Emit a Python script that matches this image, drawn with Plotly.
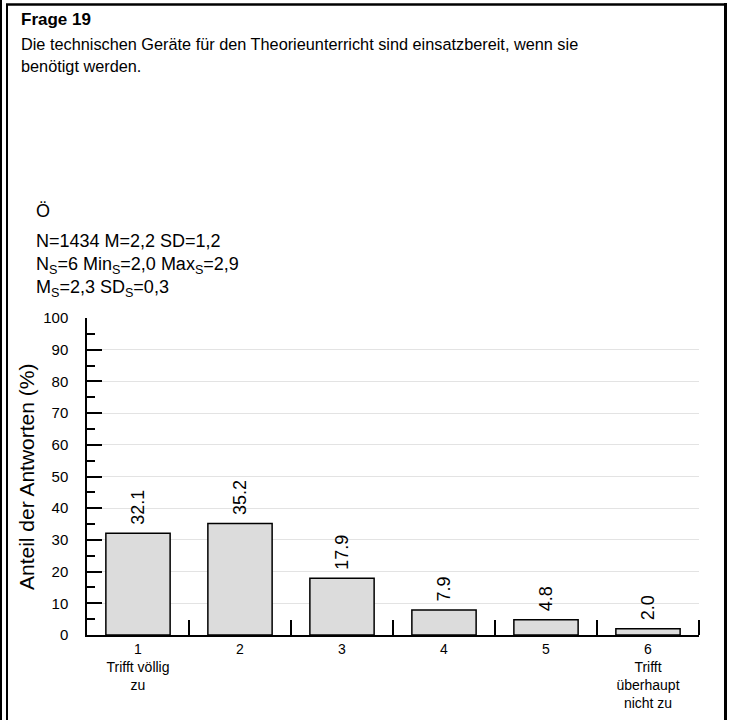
import plotly.graph_objects as go

# Frage 19 - Antwortverteilung
categories = [1, 2, 3, 4, 5, 6]
cat_labels = ["1<br>Trifft völlig<br>zu", "2", "3", "4", "5", "6<br>Trifft<br>überhaupt<br>nicht zu"]
shares = [32.1, 35.2, 17.9, 7.9, 4.8, 2.0]
y_ticks = [0, 10, 20, 30, 40, 50, 60, 70, 80, 90, 100]

title = "<b>Frage 19</b>"
question = ["Die technischen Geräte für den Theorieunterricht sind einsatzbereit, wenn sie",
            "benötigt werden."]
stats = ["Ö",
         "N=1434 M=2,2 SD=1,2",
         "N<sub>S</sub>=6 Min<sub>S</sub>=2,0 Max<sub>S</sub>=2,9",
         "M<sub>S</sub>=2,3 SD<sub>S</sub>=0,3"]
y_title = "Anteil der Antworten (%)"

FONT = "Arial, Liberation Sans, sans-serif"

# plot area in pixels (page 731 x 720)
L, R, T, B = 87, 699, 318, 635
W, H = R - L, B - T


def fx(px):
    return (px - L) / W


def fy(py):
    return (B - py) / H


fig = go.Figure()
fig.add_trace(go.Bar(
    x=categories, y=shares, width=0.63,
    marker=dict(color="#dcdcdc", line=dict(color="black", width=1.5)),
    hoverinfo="skip",
))

# rotated value labels above bars
for c, v in zip(categories, shares):
    fig.add_annotation(x=c, y=v, text=f"{v:.1f}", textangle=-90,
                       showarrow=False, xanchor="center", yanchor="bottom",
                       yshift=6, font=dict(family=FONT, size=18, color="black"))

# header texts
fig.add_annotation(x=fx(19), y=fy(19), xref="paper", yref="paper", text=title,
                   showarrow=False, xanchor="left", yanchor="middle",
                   font=dict(family=FONT, size=17, color="black"))
for i, line in enumerate(question):
    fig.add_annotation(x=fx(19), y=fy(44 + 22 * i), xref="paper", yref="paper", text=line,
                       showarrow=False, xanchor="left", yanchor="middle",
                       font=dict(family=FONT, size=16.3, color="black"))
for line, py in zip(stats, [211, 241, 265, 289]):
    fig.add_annotation(x=fx(34), y=fy(py), xref="paper", yref="paper", text=line,
                       showarrow=False, xanchor="left", yanchor="middle",
                       font=dict(family=FONT, size=18, color="black"))

# y axis title
fig.add_annotation(x=fx(26), y=fy(477), xref="paper", yref="paper", text=y_title,
                   textangle=-90, showarrow=False, xanchor="center", yanchor="middle",
                   font=dict(family=FONT, size=21, color="black"))

# frame around the page
frame = [
    (1, 0, 1, 720, 2),
    (7, 4, 7, 720, 2),
    (6, 4.5, 727, 4.5, 2.5),
    (725.5, 3, 725.5, 720, 3),
]
for x0, y0, x1, y1, w in frame:
    fig.add_shape(type="line", xref="paper", yref="paper",
                  x0=fx(x0), y0=fy(y0), x1=fx(x1), y1=fy(y1),
                  line=dict(color="black", width=w))

fig.update_layout(
    width=731, height=720,
    margin=dict(l=L, r=731 - R, t=T, b=720 - B),
    paper_bgcolor="white", plot_bgcolor="white",
    showlegend=False,
    font=dict(family=FONT, color="black"),
    xaxis=dict(
        range=[0.5, 6.5], tickvals=categories, ticktext=cat_labels,
        ticks="", showgrid=False, zeroline=False, automargin=False,
        showline=True, linecolor="black", linewidth=1.5,
        tickfont=dict(family=FONT, size=14, color="black"),
        minor=dict(tickvals=[1.5, 2.5, 3.5, 4.5, 5.5, 6.5], ticks="inside",
                   ticklen=15, tickwidth=1.5, tickcolor="black", showgrid=False),
    ),
    yaxis=dict(
        range=[0, 100], tickvals=y_ticks, ticks="inside", ticklen=15,
        tickwidth=1.5, tickcolor="black", automargin=False,
        showgrid=True, gridcolor="#e3e3e3", gridwidth=1, zeroline=False,
        showline=True, linecolor="black", linewidth=1.5,
        tickfont=dict(family=FONT, size=15, color="black"),
        ticklabelstandoff=14,
        minor=dict(dtick=5, ticks="inside", ticklen=8, tickwidth=1.5,
                   tickcolor="black", showgrid=False),
    ),
)

fig.write_html("out.html", config={"displayModeBar": False},
               post_script="document.body.style.margin='0';")
